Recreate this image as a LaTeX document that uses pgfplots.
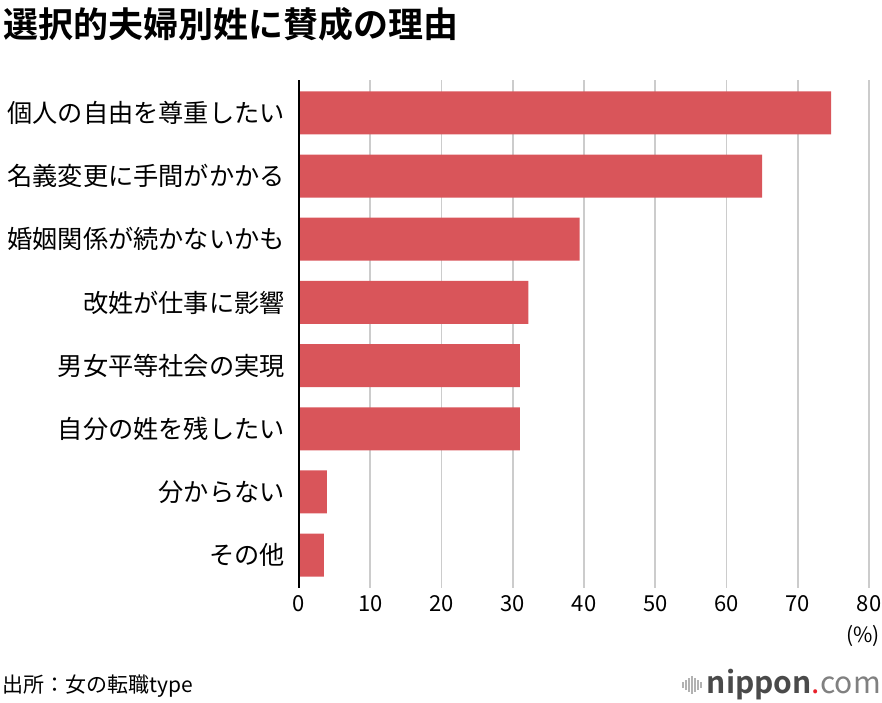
\documentclass[border=0pt]{standalone}
\usepackage{fontspec}
\setmainfont{Noto Sans CJK JP}[BoldFont={Noto Sans CJK JP Bold}]
\usepackage{pgfplots}
\pgfplotsset{compat=1.18}
\definecolor{barred}{HTML}{D9555A}
\definecolor{gridgray}{HTML}{CCCCCC}
\definecolor{logogray}{HTML}{4A4A4A}
\definecolor{logored}{HTML}{E8202A}
\pgfplotstableread{
y val
0 74.7
1 65.0
2 39.4
3 32.2
4 31.0
5 31.0
6 3.9
7 3.5
}\datatable
\begin{document}
\begin{tikzpicture}[x=1pt,y=1pt]
\useasboundingbox (0,0) rectangle (882,702);
\begin{axis}[
  at={(299pt,114pt)}, anchor=south west,
  scale only axis, width=570pt, height=508pt,
  xbar, bar width=43pt, bar shift=0pt,
  xmin=0, xmax=80, ymin=-0.52, ymax=7.52, y dir=reverse,
  xtick={0,10,...,80}, ytick={0,...,7},
  yticklabels={個人の自由を尊重したい,名義変更に手間がかかる,婚姻関係が続かないかも,改姓が仕事に影響,男女平等社会の実現,自分の姓を残したい,分からない,その他},
  axis line style={draw=none},
  major tick length=0pt,
  xmajorgrids, grid style={gridgray, line width=1.6pt},
  yticklabel style={font=\fontsize{25.2}{28}\selectfont, anchor=east, xshift=-14pt, inner sep=0pt},
  xticklabel style={font=\fontsize{22}{24}\selectfont, yshift=-4pt},
  /pgf/number format/assume math mode=true,
  clip=false,
]
\addplot[fill=barred, draw=none] table[x=val, y=y] {\datatable};
\draw[black, line width=1.5pt] (axis cs:0,-0.52) -- (axis cs:0,7.52);
\end{axis}
\node[anchor=west, inner sep=0, font=\fontsize{35}{40}\selectfont\bfseries] at (3,678) {選択的夫婦別姓に賛成の理由};
\node[anchor=east, inner sep=0, font=\fontsize{21}{24}\selectfont] at (880,66) {(\%)};
\node[anchor=west, inner sep=0, font=\fontsize{21}{24}\selectfont] at (2,16) {出所：女の転職type};
\node[anchor=east, inner sep=0, font=\fontsize{30}{34}\selectfont] at (881,17) {\textcolor{logogray}{\bfseries nippon}\textcolor{logored}{.}\textcolor{gray}{com}};
\foreach \xx/\hh in {683/6,686/10,689/14,692/18,695/14,698/10,701/6}{
  \draw[gray!60, line width=1.2pt] (\xx,17-\hh/2) -- (\xx,17+\hh/2);
}
\end{tikzpicture}
\end{document}
